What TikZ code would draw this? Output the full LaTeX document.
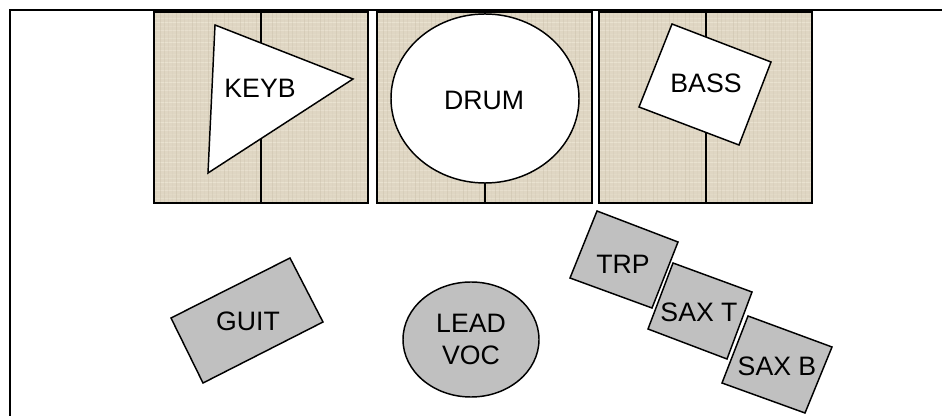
\documentclass[tikz,border=0pt]{standalone}
\usepackage{fontspec}
\setmainfont{Liberation Sans}
\definecolor{riserbase}{RGB}{223,214,195}
\definecolor{riserlight}{RGB}{240,234,218}
\definecolor{riserdark}{RGB}{198,188,166}
\definecolor{shapegray}{RGB}{192,192,192}
\begin{document}
\begin{tikzpicture}[x=0.75pt,y=-0.75pt,
  riserfill/.style={fill=riserbase},
  riserline/.style={draw=black,line width=0.8pt},
  whiteshape/.style={draw=black,fill=white,line width=1.1pt,line join=miter},
  grayshape/.style={draw=black,fill=shapegray,line width=1.1pt,line join=miter},
  lbl/.style={font=\fontsize{20}{24}\selectfont,inner sep=0pt,align=center},
  frame/.style={draw=black,line width=1.3pt}]
\useasboundingbox (0,0) rectangle (942,416);
\fill[white] (0,0) rectangle (942,416);
% frame
\draw[frame] (10,416) -- (10,10) -- (942,10);
% risers
\foreach \xa/\xm/\xb in {154/261/368, 377/485/592, 599/706/812}{
  \fill[riserfill] (\xa,12) rectangle (\xb,203);
  \begin{scope}
    \clip (\xa,12) rectangle (\xb,203);
    \foreach \k in {0,...,47}{
      \pgfmathsetmacro{\yy}{14+\k*4}
      \pgfmathsetmacro{\op}{mod(\k*7,5)/10+0.2}
      \draw[draw=riserlight,line width=0.7pt,opacity=\op] (\xa,\yy) -- (\xb,\yy);
    }
    \foreach \k in {0,...,54}{
      \pgfmathsetmacro{\xx}{\xa+2+\k*4}
      \pgfmathsetmacro{\op}{mod(\k*3,4)/10+0.1}
      \draw[draw=riserdark,line width=0.5pt,opacity=\op] (\xx,12) -- (\xx,203);
    }
  \end{scope}
  \draw[riserline] (\xa,12) rectangle (\xb,203);
  \draw[riserline] (\xm,12) -- (\xm,203);
}
% KEYB
\draw[whiteshape] (215,25) -- (353,79) -- (208,173) -- cycle;
\node[lbl] (keyb) at (260,88) {KEYB};
% DRUM
\draw[whiteshape] (485,98.5) ellipse [x radius=94, y radius=84.5];
\node[lbl] (drum) at (484,100) {DRUM};
% BASS
\draw[whiteshape] (672,24) -- (771,62) -- (739,145) -- (639,107) -- cycle;
\node[lbl] (bass) at (706,83) {BASS};
% GUIT
\draw[grayshape] (171,318) -- (290,258) -- (323,322) -- (203,383) -- cycle;
\node[lbl] (guit) at (248,321) {GUIT};
% LEAD VOC
\draw[grayshape] (471,339.5) ellipse [x radius=68, y radius=57.5];
\node[lbl] (lead) at (471,339) {LEAD\\VOC};
% TRP
\draw[grayshape] (597,211) -- (678,242) -- (652,308) -- (570,278) -- cycle;
\node[lbl] (trp) at (623,264) {TRP};
% SAX T
\draw[grayshape] (673,263) -- (752,292) -- (727,359) -- (648,329) -- cycle;
\node[lbl] (saxt) at (699,312) {SAX T};
% SAX B
\draw[grayshape] (748,316) -- (832,347) -- (805,413) -- (722,383) -- cycle;
\node[lbl] (saxb) at (777,366) {SAX B};
\end{tikzpicture}
\end{document}
